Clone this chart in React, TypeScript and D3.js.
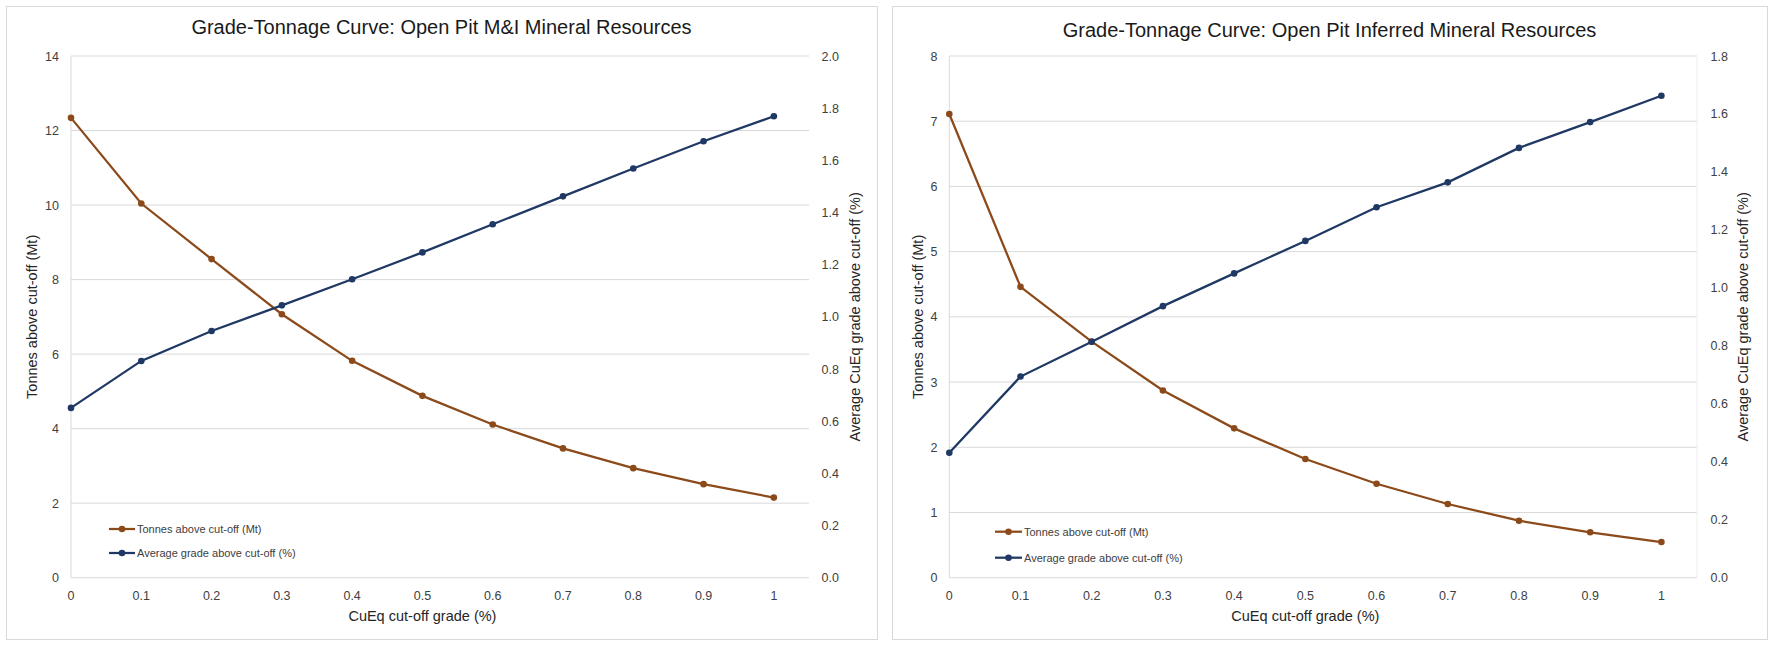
import React from "react";
import * as d3 from "d3";

const cutoffs = [0, 0.1, 0.2, 0.3, 0.4, 0.5, 0.6, 0.7, 0.8, 0.9, 1.0];
const xTickLabels = ["0", "0.1", "0.2", "0.3", "0.4", "0.5", "0.6", "0.7", "0.8", "0.9", "1"];

const miTonnes = [12.34, 10.04, 8.55, 7.07, 5.82, 4.88, 4.11, 3.47, 2.94, 2.51, 2.15];
const miGrade = [0.651, 0.831, 0.946, 1.044, 1.144, 1.247, 1.355, 1.462, 1.569, 1.673, 1.769];

const infTonnes = [7.11, 4.46, 3.62, 2.87, 2.29, 1.82, 1.44, 1.13, 0.874, 0.696, 0.547];
const infGrade = [0.431, 0.694, 0.814, 0.937, 1.05, 1.162, 1.278, 1.364, 1.483, 1.572, 1.663];

const miTitle = "Grade-Tonnage Curve: Open Pit M&I Mineral Resources";
const infTitle = "Grade-Tonnage Curve: Open Pit Inferred Mineral Resources";
const xTitle = "CuEq cut-off grade (%)";
const leftTitle = "Tonnes above cut-off (Mt)";
const rightTitle = "Average CuEq grade above cut-off (%)";
const legendLabels = ["Tonnes above cut-off (Mt)", "Average grade above cut-off (%)"];

const BROWN = "#8C4A1A";
const NAVY = "#1F3864";
const GRID = "#d9d9d9";
const FONT = "'Liberation Sans', Arial, sans-serif";

type PanelProps = {
  title: string;
  tonnes: number[];
  grade: number[];
  leftMax: number;
  leftStep: number;
  rightMax: number;
  rightStep: number;
  box: { x0: number; x1: number; y0: number; y1: number };
  plot: { l: number; r: number; t: number; b: number };
  titleY: number;
  leftTickX: number;
  rightTickX: number;
  leftTitleX: number;
  rightTitleX: number;
  legend: { x0: number; x1: number; y1: number; y2: number };
  rightEdgeLine: boolean;
};

function Panel(p: PanelProps) {
  const x = d3.scaleLinear().domain([0, 1.05]).range([p.plot.l, p.plot.r]);
  const yL = d3.scaleLinear().domain([0, p.leftMax]).range([p.plot.b, p.plot.t]);
  const yR = d3.scaleLinear().domain([0, p.rightMax]).range([p.plot.b, p.plot.t]);
  const leftTicks = d3.range(0, p.leftMax + 1e-9, p.leftStep);
  const rightTicks = d3.range(0, p.rightMax + 1e-9, p.rightStep);
  const lineL = d3.line<number>().x((_, i) => x(cutoffs[i])).y((d) => yL(d));
  const lineR = d3.line<number>().x((_, i) => x(cutoffs[i])).y((d) => yR(d));
  const cx = (p.box.x0 + p.box.x1) / 2;
  const plotMidY = (p.plot.t + p.plot.b) / 2;
  const plotMidX = (p.plot.l + x(1)) / 2 + 0;

  return (
    <g fontFamily={FONT}>
      <rect
        x={p.box.x0 + 0.5}
        y={p.box.y0 + 0.5}
        width={p.box.x1 - p.box.x0}
        height={p.box.y1 - p.box.y0}
        fill="#fff"
        stroke={GRID}
        strokeWidth={1}
      />
      <text x={cx} y={p.titleY} textAnchor="middle" fontSize={20} fill="#1a1a1a">
        {p.title}
      </text>
      {leftTicks.map((t) => (
        <line key={"g" + t} x1={p.plot.l} x2={p.plot.r} y1={yL(t)} y2={yL(t)} stroke={GRID} strokeWidth={1} />
      ))}
      <line x1={p.plot.l} x2={p.plot.l} y1={p.plot.t} y2={p.plot.b} stroke={GRID} strokeWidth={1} />
      {p.rightEdgeLine && (
        <line x1={p.plot.r} x2={p.plot.r} y1={p.plot.t} y2={p.plot.b} stroke="#eeeeee" strokeWidth={1} />
      )}
      {leftTicks.map((t) => (
        <text key={"lt" + t} x={p.leftTickX} y={yL(t) + 4.5} textAnchor="end" fontSize={12.5} fill="#404040">
          {d3.format("d")(t)}
        </text>
      ))}
      {rightTicks.map((t) => (
        <text key={"rt" + t} x={p.rightTickX} y={yR(t) + 4.5} textAnchor="start" fontSize={12.5} fill="#404040">
          {d3.format(".1f")(t)}
        </text>
      ))}
      {cutoffs.map((c, i) => (
        <text key={"xt" + i} x={x(c)} y={599.5} textAnchor="middle" fontSize={12.5} fill="#404040">
          {xTickLabels[i]}
        </text>
      ))}
      <text x={plotMidX} y={621} textAnchor="middle" fontSize={14.5} fill="#262626">
        {xTitle}
      </text>
      <text
        transform={`translate(${p.leftTitleX},${plotMidY}) rotate(-90)`}
        textAnchor="middle"
        fontSize={14.5}
        fill="#262626"
      >
        {leftTitle}
      </text>
      <text
        transform={`translate(${p.rightTitleX},${plotMidY}) rotate(-90)`}
        textAnchor="middle"
        fontSize={14.5}
        fill="#262626"
      >
        {rightTitle}
      </text>
      <path d={lineL(p.tonnes) || ""} fill="none" stroke={BROWN} strokeWidth={2.25} />
      {p.tonnes.map((v, i) => (
        <circle key={"tm" + i} cx={x(cutoffs[i])} cy={yL(v)} r={3.3} fill={BROWN} />
      ))}
      <path d={lineR(p.grade) || ""} fill="none" stroke={NAVY} strokeWidth={2.25} />
      {p.grade.map((v, i) => (
        <circle key={"gm" + i} cx={x(cutoffs[i])} cy={yR(v)} r={3.3} fill={NAVY} />
      ))}
      {[BROWN, NAVY].map((c, i) => {
        const yy = i === 0 ? p.legend.y1 : p.legend.y2;
        return (
          <g key={"lg" + i}>
            <line x1={p.legend.x0} x2={p.legend.x1} y1={yy} y2={yy} stroke={c} strokeWidth={2.25} />
            <circle cx={(p.legend.x0 + p.legend.x1) / 2} cy={yy} r={3.3} fill={c} />
            <text x={p.legend.x1 + 2} y={yy + 4} fontSize={11} fill="#404040">
              {legendLabels[i]}
            </text>
          </g>
        );
      })}
    </g>
  );
}

export default function App() {
  return (
    <svg
      width={1778}
      height={650}
      style={{ position: "absolute", left: 0, top: 0, background: "#fff" }}
    >
      <rect x={0} y={0} width={1778} height={650} fill="#fff" />
      <Panel
        title={miTitle}
        tonnes={miTonnes}
        grade={miGrade}
        leftMax={14}
        leftStep={2}
        rightMax={2.0}
        rightStep={0.2}
        box={{ x0: 6, x1: 877, y0: 6, y1: 639 }}
        plot={{ l: 71, r: 809, t: 56, b: 577.7 }}
        titleY={34}
        leftTickX={59}
        rightTickX={821.5}
        leftTitleX={37}
        rightTitleX={860}
        legend={{ x0: 109, x1: 135, y1: 529, y2: 553 }}
        rightEdgeLine={false}
      />
      <Panel
        title={infTitle}
        tonnes={infTonnes}
        grade={infGrade}
        leftMax={8}
        leftStep={1}
        rightMax={1.8}
        rightStep={0.2}
        box={{ x0: 892, x1: 1767, y0: 6, y1: 639 }}
        plot={{ l: 949.3, r: 1697, t: 56, b: 577.7 }}
        titleY={37}
        leftTickX={937.5}
        rightTickX={1710.5}
        leftTitleX={923}
        rightTitleX={1748}
        legend={{ x0: 995, x1: 1022, y1: 531.7, y2: 557.7 }}
        rightEdgeLine={true}
      />
    </svg>
  );
}
